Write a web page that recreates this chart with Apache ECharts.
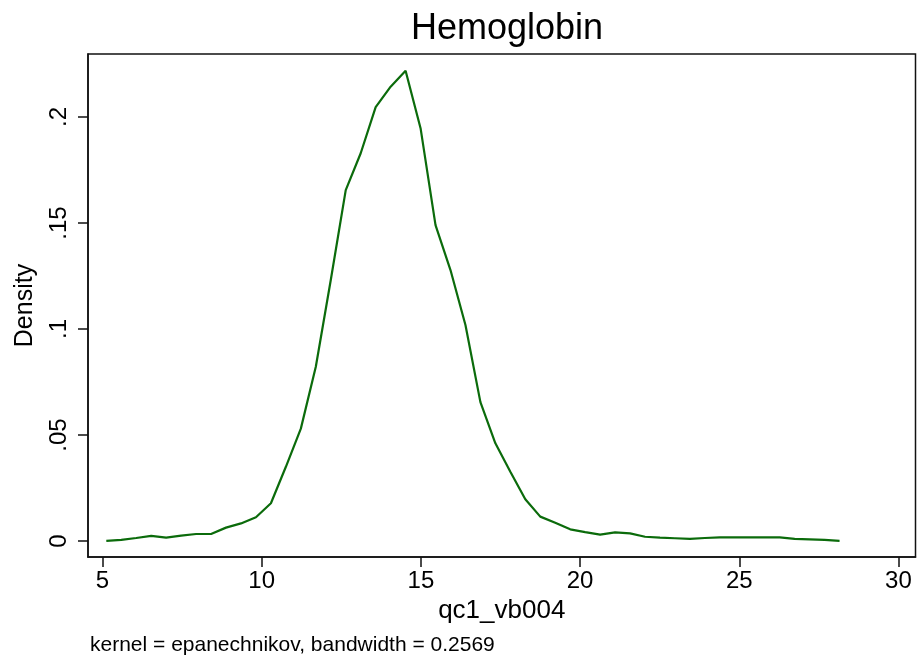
<!DOCTYPE html>
<html>
  <head>
	<meta charset="UTF-8">
	<title>Hemoglobin</title>
	<script src="https://cdn.jsdelivr.net/npm/echarts@6/dist/echarts.min.js"></script>
	<style>
	  html, body { margin: 0; padding: 0; background: #fff; }
	  #chart { width: 917px; height: 660px; }
	</style>
  </head>
  <body>
	<div id="chart"></div>
	<script type="text/javascript">
	 // kdensity points (qc1_vb004, density)
	 var hgbX = [5.12, 5.59, 6.06, 6.53, 7.00, 7.47, 7.94, 8.41, 8.88, 9.35,
	             9.82, 10.29, 10.76, 11.23, 11.70, 12.17, 12.64, 13.11, 13.58, 14.05,
	             14.52, 14.99, 15.46, 15.93, 16.40, 16.87, 17.34, 17.81, 18.28, 18.75,
	             19.22, 19.69, 20.16, 20.63, 21.10, 21.57, 22.04, 22.51, 22.98, 23.45,
	             23.92, 24.39, 24.86, 25.33, 25.80, 26.27, 26.74, 27.21, 27.68, 28.15];
	 var density = [0.0001, 0.0005, 0.0014, 0.0024, 0.0016, 0.0025, 0.0033, 0.0033, 0.0063, 0.0083,
	                0.0112, 0.0178, 0.0350, 0.0530, 0.0822, 0.1231, 0.1655, 0.1829, 0.2046, 0.2143,
	                0.2218, 0.1947, 0.1490, 0.1278, 0.1019, 0.0655, 0.0461, 0.0327, 0.0197, 0.0115,
	                0.0086, 0.0055, 0.0042, 0.0030, 0.0041, 0.0036, 0.0020, 0.0016, 0.0013, 0.0010,
	                0.0014, 0.0017, 0.0017, 0.0017, 0.0017, 0.0017, 0.0010, 0.0008, 0.0005, 0.0001];
	 var xTicks = [5, 10, 15, 20, 25, 30];
	 var yTicks = [0, 0.05, 0.1, 0.15, 0.2];

	 var pts = [];
	 for (var i = 0; i < hgbX.length; i++) {
	   pts.push([hgbX[i], density[i]]);
	 }

	 var font = 'Liberation Sans, Arial, sans-serif';
	 var chart = echarts.init(document.getElementById('chart'));
	 chart.setOption({
	   backgroundColor: '#fff',
	   animation: false,
	   title: [
	     {
	       text: 'Hemoglobin',
	       left: 502,
	       top: 6,
	       textAlign: 'center',
	       textStyle: { fontFamily: font, fontSize: 36, fontWeight: 'normal', color: '#000' }
	     },
	     {
	       text: 'kernel = epanechnikov, bandwidth = 0.2569',
	       left: 90,
	       top: 635,
	       padding: 0,
	       textStyle: { fontFamily: font, fontSize: 21, fontWeight: 'normal', color: '#000' }
	     }
	   ],
	   grid: {
	     left: 88, top: 54, right: 1.5, bottom: 103,
	     show: true,
	     borderColor: '#111',
	     borderWidth: 1.5,
	     containLabel: false,
	     outerBoundsMode: 'none'
	   },
	   xAxis: {
	     type: 'value',
	     min: 4.545,
	     max: 30.535,
	     name: 'qc1_vb004',
	     nameLocation: 'middle',
	     nameGap: 41,
	     nameTextStyle: { fontFamily: font, fontSize: 26, color: '#000' },
	     axisLine: { show: true, onZero: false, lineStyle: { color: '#111', width: 1.5 } },
	     axisTick: { show: true, length: 10, lineStyle: { color: '#111', width: 1.5 }, customValues: xTicks },
	     axisLabel: { fontFamily: font, fontSize: 24, color: '#000', margin: 12, customValues: xTicks },
	     splitLine: { show: false }
	   },
	   yAxis: {
	     type: 'value',
	     min: -0.00755,
	     max: 0.2297,
	     name: 'Density',
	     nameLocation: 'middle',
	     nameGap: 50,
	     nameRotate: 90,
	     nameTextStyle: { fontFamily: font, fontSize: 25, color: '#000' },
	     axisLine: { show: true, onZero: false, lineStyle: { color: '#111', width: 1.5 } },
	     axisTick: { show: true, length: 10, lineStyle: { color: '#111', width: 1.5 }, customValues: yTicks },
	     axisLabel: {
	       fontFamily: font, fontSize: 24, color: '#000', margin: 17, rotate: 90,
	       customValues: yTicks,
	       formatter: function (v) {
	         return v === 0 ? '0' : String(+v.toFixed(2)).replace(/^0\./, '.');
	       }
	     },
	     splitLine: { show: false }
	   },
	   series: [{
	     type: 'line',
	     data: pts,
	     showSymbol: false,
	     lineStyle: { color: '#0b6b0b', width: 2.2 }
	   }]
	 });
	</script>
  </body>
</html>
